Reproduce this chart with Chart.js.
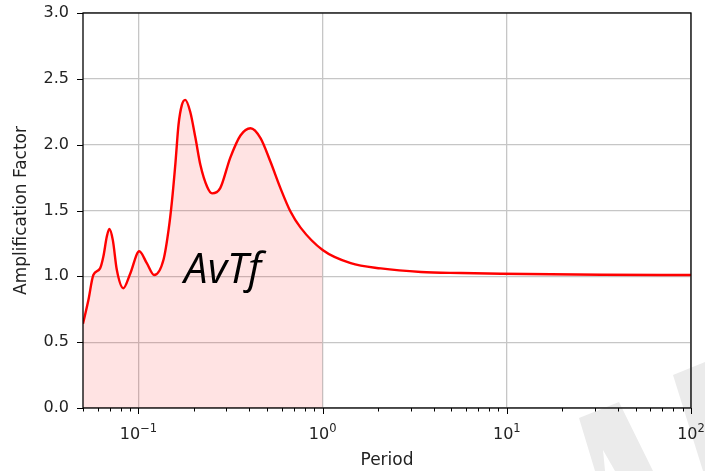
<!DOCTYPE html>
<html>
<head>
<meta charset="utf-8">
<script src="https://cdn.jsdelivr.net/npm/chart.js@4/dist/chart.umd.min.js"></script>
<style>
  html, body { margin: 0; padding: 0; background: #fff; }
  #wrap { width: 705px; height: 471px; }
</style>
</head>
<body>
<div id="wrap"><canvas id="c" width="705" height="471"></canvas></div>
<script>
// Spectral amplification factor against structural period (log axis)
const periods = [
  0.05, 0.0535, 0.0569, 0.0619, 0.0645, 0.0673, 0.0695, 0.0726, 0.0763, 0.0828,
  0.0902, 0.101, 0.111, 0.1217, 0.137, 0.146, 0.152, 0.159, 0.165, 0.172,
  0.1795, 0.191, 0.204, 0.217, 0.236, 0.251, 0.278, 0.315, 0.358, 0.406,
  0.46, 0.521, 0.59, 0.67, 0.759, 1.0, 1.42, 2.07, 3.42, 5.64,
  9.3, 32.6, 100
];
const amplification = [
  0.64, 0.82, 1.01, 1.06, 1.15, 1.30, 1.36, 1.275, 1.05, 0.91,
  1.02, 1.19, 1.10, 1.01, 1.13, 1.36, 1.57, 1.87, 2.15, 2.30,
  2.34, 2.25, 2.05, 1.845, 1.68, 1.63, 1.67, 1.90, 2.07, 2.125,
  2.05, 1.87, 1.67, 1.49, 1.37, 1.20, 1.10, 1.06, 1.033, 1.025,
  1.02, 1.012, 1.01
];
// Shaded band runs from the first period up to this one
const shadeUntil = 1.0;

const xTickValues = [
  0.05, 0.06, 0.07, 0.08, 0.09,
  0.1, 0.2, 0.3, 0.4, 0.5, 0.6, 0.7, 0.8, 0.9,
  1, 2, 3, 4, 5, 6, 7, 8, 9,
  10, 20, 30, 40, 50, 60, 70, 80, 90,
  100
];
const yTickValues = [0, 0.5, 1.0, 1.5, 2.0, 2.5, 3.0];

const xTitle = 'Period';
const yTitle = 'Amplification Factor';
const labelText = 'AvTf';
const labelAt = { x: 0.177, y: 0.95 };

function isDecade(v) {
  const l = Math.log10(v);
  return Math.abs(l - Math.round(l)) < 1e-9;
}
// exponent text for a power of ten, with a true minus sign
function exponentOf(v) {
  return String(Math.round(Math.log10(v))).replace('-', '\u2212');
}
// let the layout padding alone decide the plot frame
function dropLabelPadding(scale) {
  scale.paddingTop = 0; scale.paddingBottom = 0;
  scale.paddingLeft = 0; scale.paddingRight = 0;
}

const points = periods.map((p, i) => ({ x: p, y: amplification[i] }));
const shaded = points.filter(pt => pt.x <= shadeUntil);

const frame = {
  id: 'frame',
  beforeDraw(chart) {
    // faint background stamp in the lower-right corner
    const c = chart.ctx;
    c.save();
    c.fillStyle = '#ebebeb';
    c.beginPath();
    c.moveTo(579, 418); c.lineTo(619, 402); c.lineTo(653, 471); c.lineTo(615, 471);
    c.lineTo(603, 450); c.lineTo(605, 471); c.lineTo(595, 471); c.closePath();
    c.fill();
    c.beginPath();
    c.moveTo(673, 375); c.lineTo(705, 362); c.lineTo(705, 471); c.lineTo(703, 471); c.closePath();
    c.fill();
    c.restore();
  },
  afterDatasetsDraw(chart) {
    const { ctx, chartArea: a, scales: { x, y } } = chart;
    ctx.save();
    ctx.strokeStyle = '#000';
    ctx.lineWidth = 1;
    ctx.beginPath();
    x.ticks.forEach(t => {
      const px = Math.round(x.getPixelForValue(t.value)) + 0.5;
      const len = isDecade(t.value) ? 6 : 3.5;
      ctx.moveTo(px, a.bottom);
      ctx.lineTo(px, a.bottom + len);
    });
    y.ticks.forEach(t => {
      const py = Math.round(y.getPixelForValue(t.value)) + 0.5;
      ctx.moveTo(a.left, py);
      ctx.lineTo(a.left - 6, py);
    });
    ctx.stroke();
    ctx.lineWidth = 1.3;
    ctx.strokeRect(a.left, a.top, a.right - a.left, a.bottom - a.top);

    // decade labels: base 10 with a raised, smaller exponent
    const baseFont = '16px "DejaVu Sans"';
    const expFont = '11.5px "DejaVu Sans"';
    const baseY = a.bottom + 31;
    ctx.fillStyle = '#222';
    ctx.textBaseline = 'alphabetic';
    ctx.textAlign = 'left';
    x.ticks.filter(t => isDecade(t.value)).forEach(t => {
      const exp = exponentOf(t.value);
      ctx.font = baseFont;
      const wb = ctx.measureText('10').width;
      ctx.font = expFont;
      const we = ctx.measureText(exp).width;
      const left = x.getPixelForValue(t.value) - (wb + we) / 2;
      ctx.font = baseFont;
      ctx.fillText('10', left, baseY);
      ctx.font = expFont;
      ctx.fillText(exp, left + wb, baseY - 7);
    });

    ctx.fillStyle = '#000';
    ctx.font = 'italic 42px "Open Sans"';
    ctx.fillText(labelText, x.getPixelForValue(labelAt.x), y.getPixelForValue(labelAt.y));
    ctx.restore();
  }
};

new Chart(document.getElementById('c'), {
  type: 'line',
  data: {
    datasets: [
      {
        data: points,
        borderColor: '#ff0000',
        borderWidth: 2.4,
        pointRadius: 0,
        fill: false,
        cubicInterpolationMode: 'monotone',
        order: 0
      },
      {
        data: shaded,
        borderWidth: 0,
        borderColor: 'rgba(0,0,0,0)',
        backgroundColor: 'rgba(255,0,0,0.11)',
        pointRadius: 0,
        fill: 'origin',
        cubicInterpolationMode: 'monotone',
        order: 1
      }
    ]
  },
  options: {
    responsive: false,
    animation: false,
    devicePixelRatio: 1,
    layout: { padding: { top: 13, right: 14, left: 0, bottom: 0 } },
    plugins: { legend: { display: false }, tooltip: { enabled: false } },
    scales: {
      x: {
        type: 'logarithmic',
        min: 0.05,
        max: 100,
        afterBuildTicks(scale) { scale.ticks = xTickValues.map(v => ({ value: v })); },
        afterFit(scale) { scale.height = 63; dropLabelPadding(scale); },
        border: { display: false },
        grid: {
          drawTicks: false,
          lineWidth: 1.3,
          color: ctx => (ctx.tick && isDecade(ctx.tick.value)) ? '#c6c6c6' : 'rgba(0,0,0,0)'
        },
        ticks: {
          autoSkip: false,
          maxRotation: 0,
          callback: () => ''
        },
        title: {
          display: true,
          text: xTitle,
          color: '#222',
          font: { family: '"DejaVu Sans"', size: 17 },
          padding: { top: 0, bottom: 0 }
        }
      },
      y: {
        type: 'linear',
        min: 0,
        max: 3,
        afterBuildTicks(scale) { scale.ticks = yTickValues.map(v => ({ value: v })); },
        afterFit(scale) { scale.width = 83; dropLabelPadding(scale); },
        border: { display: false },
        grid: { drawTicks: false, lineWidth: 1.3, color: '#c6c6c6' },
        ticks: {
          padding: 14,
          color: '#222',
          font: { family: '"DejaVu Sans"', size: 16 },
          callback: v => Number(v).toFixed(1)
        },
        title: {
          display: true,
          text: yTitle,
          color: '#222',
          font: { family: '"DejaVu Sans"', size: 17 },
          padding: { top: 11, bottom: 0 }
        }
      }
    }
  },
  plugins: [frame]
});
</script>
</body>
</html>
